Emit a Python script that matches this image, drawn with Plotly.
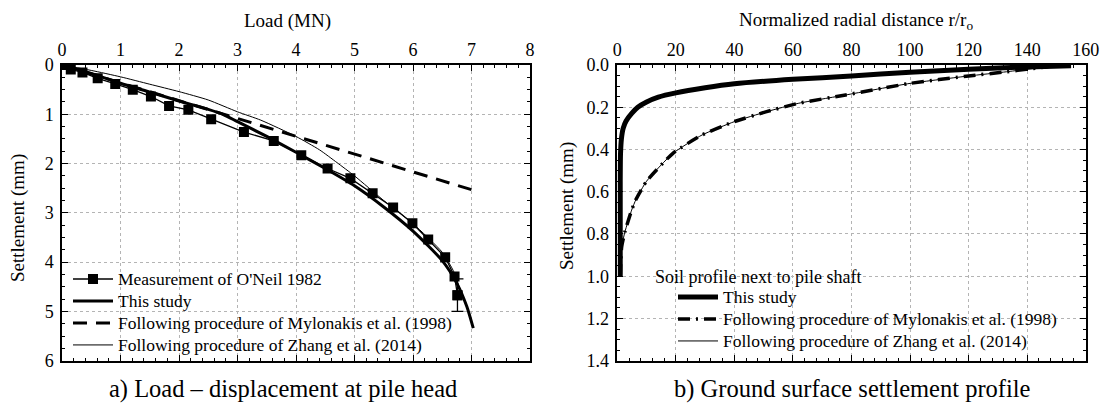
import plotly.graph_objects as go

W, H = 1107, 405

# ---------------- data: a) load - displacement at pile head ----------------
load_meas = [0.0, 0.15, 0.35, 0.61, 0.91, 1.21, 1.52, 1.83, 2.16, 2.55, 3.11, 3.62,
             4.09, 4.54, 4.93, 5.31, 5.66, 5.99, 6.26, 6.55, 6.71, 6.76]
sett_meas = [0.0, 0.09, 0.15, 0.27, 0.385, 0.50, 0.64, 0.83, 0.91, 1.10, 1.36, 1.54,
             1.83, 2.10, 2.30, 2.60, 2.89, 3.21, 3.54, 3.90, 4.29, 4.67]
meas_err_last = 0.33

load_this = [0.0, 0.5, 1.0, 1.5, 2.0, 2.5, 2.75, 3.0, 3.5, 4.0, 4.5, 5.0, 5.5, 6.0,
             6.5, 6.75, 6.92, 7.03]
sett_this = [0.0, 0.17, 0.37, 0.55, 0.73, 0.90, 1.00, 1.15, 1.45, 1.77, 2.10, 2.45,
             2.88, 3.37, 3.97, 4.43, 4.90, 5.34]

load_myl = [0.0, 1.0, 2.0, 3.0, 4.0, 5.0, 6.0, 7.0]
sett_myl = [0.0, 0.36, 0.72, 1.09, 1.45, 1.81, 2.17, 2.53]

load_zh = [0.0, 0.5, 1.0, 1.5, 2.0, 2.5, 3.0, 3.4, 4.0, 4.4, 4.7, 5.0, 5.5, 6.0,
           6.5, 6.7, 6.8]
sett_zh = [0.0, 0.11, 0.24, 0.39, 0.54, 0.71, 0.95, 1.12, 1.45, 1.72, 1.98, 2.25,
           2.75, 3.22, 3.80, 4.20, 4.55]

# ---------------- data: b) ground surface settlement profile ----------------
r_this = [1.0, 1.0, 1.1, 1.4, 2.0, 3.0, 5.0, 7.0, 10.0, 14.0, 20.0, 30.0, 40.0, 60.0,
          80.0, 100.0, 120.0, 140.0, 155.0]
s_this = [1.0, 0.55, 0.42, 0.35, 0.30, 0.265, 0.228, 0.20, 0.175, 0.152, 0.132, 0.108,
          0.089, 0.068, 0.052, 0.034, 0.020, 0.009, 0.003]

r_myl = [1.0, 1.2, 1.5, 2.6, 4.9, 6.4, 10.0, 19.0, 29.0, 40.0, 51.0, 62.0, 78.0,
         100.0, 120.0, 133.0, 146.6, 149.0]
s_myl = [1.0, 0.92, 0.86, 0.79, 0.687, 0.636, 0.55, 0.418, 0.331, 0.268, 0.221,
         0.181, 0.142, 0.087, 0.052, 0.032, 0.008, 0.002]

r_zh = [1.0, 1.2, 1.5, 2.6, 4.9, 6.4, 10.0, 19.0, 29.0, 40.0, 51.0, 62.0, 78.0,
        100.0, 120.0, 133.0, 146.6, 149.0]
s_zh = [1.0, 0.92, 0.86, 0.79, 0.687, 0.636, 0.55, 0.418, 0.331, 0.268, 0.221,
        0.181, 0.142, 0.087, 0.052, 0.032, 0.008, 0.002]

FONT = "Liberation Serif, Times New Roman, Times, serif"
LEG_TXT = 17.5   # drawn size of legend text
LEG_ROW = 14.6   # legend font size that sets the row pitch (~22 px)


def leg(name):
    return f'<span style="font-size:{LEG_TXT}px">{name}</span>'


fig = go.Figure()

# ----- left panel traces -----
fig.add_trace(go.Scatter(
    x=load_meas, y=sett_meas, mode="lines+markers", name=leg("Measurement of O'Neil 1982"),
    line=dict(color="black", width=1.3),
    marker=dict(symbol="square", size=10, color="black"),
    xaxis="x", yaxis="y", legend="legend"))
fig.add_trace(go.Scatter(
    x=[load_meas[-1]], y=[sett_meas[-1]], mode="markers", showlegend=False,
    marker=dict(symbol="square", size=10, color="black"),
    error_y=dict(type="data", array=[meas_err_last], symmetric=True,
                 color="black", thickness=1.3, width=6),
    xaxis="x", yaxis="y"))
fig.add_trace(go.Scatter(
    x=load_this, y=sett_this, mode="lines", name=leg("This study"),
    line=dict(color="black", width=3, shape="spline", smoothing=0.6),
    xaxis="x", yaxis="y", legend="legend"))
fig.add_trace(go.Scatter(
    x=load_myl, y=sett_myl, mode="lines",
    name=leg("Following procedure of Mylonakis et al. (1998)"),
    line=dict(color="black", width=3, dash="14px,9px"),
    xaxis="x", yaxis="y", legend="legend"))
fig.add_trace(go.Scatter(
    x=load_zh, y=sett_zh, mode="lines",
    name=leg("Following procedure of Zhang et al. (2014)"),
    line=dict(color="black", width=1, shape="spline", smoothing=0.6),
    xaxis="x", yaxis="y", legend="legend"))

# ----- right panel traces -----
fig.add_trace(go.Scatter(
    x=r_this, y=s_this, mode="lines", name=leg("This study"), legendrank=1,
    line=dict(color="black", width=5, shape="spline", smoothing=0.5),
    xaxis="x2", yaxis="y2", legend="legend2"))
fig.add_trace(go.Scatter(
    x=r_zh, y=s_zh, mode="lines", name=leg("Following procedure of Zhang et al. (2014)"),
    legendrank=3,
    line=dict(color="black", width=1, shape="spline", smoothing=0.5),
    xaxis="x2", yaxis="y2", legend="legend2"))
fig.add_trace(go.Scatter(
    x=r_myl, y=s_myl, mode="lines",
    name=leg("Following procedure of Mylonakis et al. (1998)"),
    legendrank=2,
    line=dict(color="black", width=3.5, dash="12px,6px,2px,6px", shape="spline", smoothing=0.5),
    xaxis="x2", yaxis="y2", legend="legend2"))

common_axis = dict(
    showline=True, linecolor="black", linewidth=1.5, mirror="ticks",
    ticks="inside", ticklen=6, tickwidth=1, tickcolor="black",
    showgrid=True, gridcolor="#b4b4b4", gridwidth=1, griddash="dot",
    zeroline=False, automargin=False,
    tickfont=dict(family=FONT, size=18, color="black"),
)
minor_common = dict(ticklen=3, ticks="inside", tickcolor="black", showgrid=False)

fig.update_layout(
    template="none",
    width=W, height=H,
    margin=dict(l=0, r=0, t=0, b=0, pad=0),
    paper_bgcolor="white", plot_bgcolor="white",
    font=dict(family=FONT, size=17, color="black"),
    xaxis=dict(domain=[62 / W, 530 / W], range=[0, 8], dtick=1, side="top",
               anchor="y", ticklabelstandoff=0, minor=dict(dtick=0.2, **minor_common),
               **common_axis),
    yaxis=dict(domain=[1 - 360.7 / H, 1 - 65 / H], range=[6, 0], dtick=1,
               anchor="x", ticklabelstandoff=3, minor=dict(dtick=0.25, **minor_common),
               **common_axis),
    xaxis2=dict(domain=[617.3 / W, 1085.7 / W], range=[0, 160], dtick=20, side="top",
                anchor="y2", ticklabelstandoff=0, minor=dict(dtick=4, **minor_common),
                **common_axis),
    yaxis2=dict(domain=[1 - 360.7 / H, 1 - 65 / H], range=[1.4, 0], dtick=0.2,
                tickformat=".1f", anchor="x2", ticklabelstandoff=3,
                minor=dict(dtick=0.05, **minor_common),
                **common_axis),
    legend=dict(x=68 / W, y=1 - 263 / H, xanchor="left", yanchor="top",
                bgcolor="rgba(0,0,0,0)", itemwidth=40, tracegroupgap=0,
                font=dict(family=FONT, size=LEG_ROW, color="black")),
    legend2=dict(x=673 / W, y=1 - 281 / H, xanchor="left", yanchor="top",
                 bgcolor="rgba(0,0,0,0)", itemwidth=40, tracegroupgap=0,
                 font=dict(family=FONT, size=LEG_ROW, color="black")),
    showlegend=True,
)

ann = [
    dict(text="Load (MN)", x=287 / W, y=1 - 21 / H, size=19),
    dict(text="Normalized radial distance r/r<sub>o</sub>", x=856 / W, y=1 - 21 / H, size=19),
    dict(text="Settlement (mm)", x=18 / W, y=1 - 218 / H, textangle=-90, size=19),
    dict(text="Settlement (mm)", x=567 / W, y=1 - 206 / H, textangle=-90, size=19),
    dict(text="a) Load \u2013 displacement at pile head", x=283 / W, y=0.0, size=24.5,
         yanchor="bottom"),
    dict(text="b) Ground surface settlement profile", x=852 / W, y=0.0, size=24.5,
         yanchor="bottom"),
    dict(text="Soil profile next to pile shaft", x=653 / W, y=1 - 277 / H, xanchor="left",
         size=18),
]
for a in ann:
    a.setdefault("xanchor", "center")
    a.setdefault("yanchor", "middle")
    size = a.pop("size")
    fig.add_annotation(xref="paper", yref="paper", showarrow=False,
                       font=dict(family=FONT, size=size, color="black"), **a)

fig.write_html("out.html")
